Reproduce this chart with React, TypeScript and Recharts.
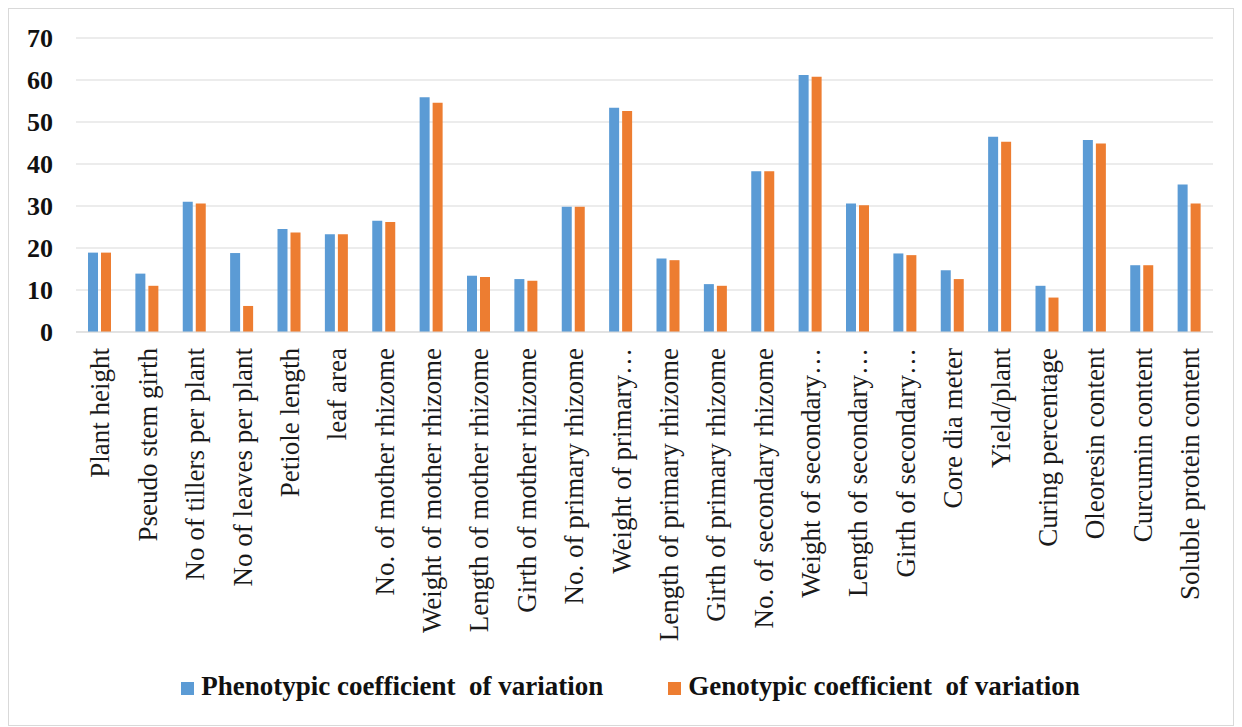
import React from "react";
import {
  Bar,
  BarChart,
  CartesianGrid,
  Legend,
  XAxis,
  YAxis,
} from "recharts";

const categories = [
  "Plant height",
  "Pseudo stem girth",
  "No of tillers per plant",
  "No of leaves per plant",
  "Petiole length",
  "leaf area",
  "No. of mother rhizome",
  "Weight of mother rhizome",
  "Length of mother rhizome",
  "Girth of mother rhizome",
  "No. of primary rhizome",
  "Weight of primary…",
  "Length of primary rhizome",
  "Girth of primary rhizome",
  "No. of secondary rhizome",
  "Weight of secondary…",
  "Length of secondary…",
  "Girth of secondary…",
  "Core dia meter",
  "Yield/plant",
  "Curing percentage",
  "Oleoresin content",
  "Curcumin content",
  "Soluble protein content",
];

const seriesNames = [
  "Phenotypic coefficient  of variation",
  "Genotypic coefficient  of variation",
];

const phenotypic = [
  18.9, 13.9, 31.0, 18.8, 24.5, 23.3, 26.5, 55.9, 13.4, 12.6, 29.8, 53.4,
  17.5, 11.4, 38.3, 61.2, 30.6, 18.7, 14.7, 46.5, 11.0, 45.7, 15.9, 35.1,
];

const genotypic = [
  18.9, 11.0, 30.6, 6.2, 23.7, 23.3, 26.2, 54.6, 13.1, 12.2, 29.8, 52.6,
  17.1, 11.0, 38.3, 60.8, 30.2, 18.3, 12.6, 45.3, 8.2, 44.9, 15.9, 30.6,
];

const yTicks = [0, 10, 20, 30, 40, 50, 60, 70];

const data = categories.map((name, i) => ({
  name,
  pcv: phenotypic[i],
  gcv: genotypic[i],
}));

const FONT = '"Liberation Serif", "Times New Roman", serif';
const BLUE = "#5B9BD5";
const ORANGE = "#ED7D31";
const GRID = "#d9d9d9";

function CategoryTick({ x, y, payload }: { x?: number; y?: number; payload?: { value: string } }) {
  return (
    <g transform={`translate(${x},${y})`}>
      <text
        transform="rotate(-90)"
        x={-16}
        y={0}
        dy="0.36em"
        textAnchor="end"
        fontFamily={FONT}
        fontSize={27}
        fill="#1a1a1a"
      >
        {payload?.value}
      </text>
    </g>
  );
}

function LegendContent({ payload }: { payload?: { value: string; color: string }[] }) {
  // keep the series order, recharts sorts legend items by name
  const items = [...(payload || [])].sort(
    (a, b) => seriesNames.indexOf(a.value) - seriesNames.indexOf(b.value)
  );
  return (
    <div
      style={{
        display: "flex",
        justifyContent: "center",
        alignItems: "center",
        gap: 65,
        height: 40,
        paddingLeft: 19,
        fontFamily: FONT,
        fontWeight: "bold",
        fontSize: 27,
        color: "#111",
      }}
    >
      {items.map((p) => (
        <span key={p.value} style={{ display: "flex", alignItems: "baseline", whiteSpace: "pre" }}>
          <span
            style={{
              display: "inline-block",
              width: 13,
              height: 13,
              background: p.color,
              marginRight: 7,
            }}
          />
          {p.value}
        </span>
      ))}
    </div>
  );
}

export default function App() {
  return (
    <div
      style={{
        width: 1226,
        height: 718,
        boxSizing: "border-box",
        border: `1px solid ${GRID}`,
        background: "#fff",
      }}
    >
      <BarChart
        width={1224}
        height={716}
        data={data}
        margin={{ top: 29, right: 20, bottom: 19, left: 10 }}
        barSize={10}
        barGap={3}
      >
        <CartesianGrid stroke={GRID} vertical={false} />
        <XAxis
          dataKey="name"
          interval={0}
          height={334}
          tick={<CategoryTick />}
          tickLine={false}
          tickSize={0}
          tickMargin={0}
          axisLine={{ stroke: GRID }}
        />
        <YAxis
          width={57}
          domain={[0, 70]}
          ticks={yTicks}
          tickLine={false}
          axisLine={false}
          tickSize={0}
          tickMargin={23}
          tick={{ fontFamily: FONT, fontSize: 26, fontWeight: "bold", fill: "#111" }}
        />
        <Legend
          verticalAlign="bottom"
          height={40}
          wrapperStyle={{ left: 0, width: 1224 }}
          content={<LegendContent />}
        />
        <Bar
          dataKey="pcv"
          name={seriesNames[0]}
          fill={BLUE}
          isAnimationActive={false}
        />
        <Bar
          dataKey="gcv"
          name={seriesNames[1]}
          fill={ORANGE}
          isAnimationActive={false}
        />
      </BarChart>
    </div>
  );
}
